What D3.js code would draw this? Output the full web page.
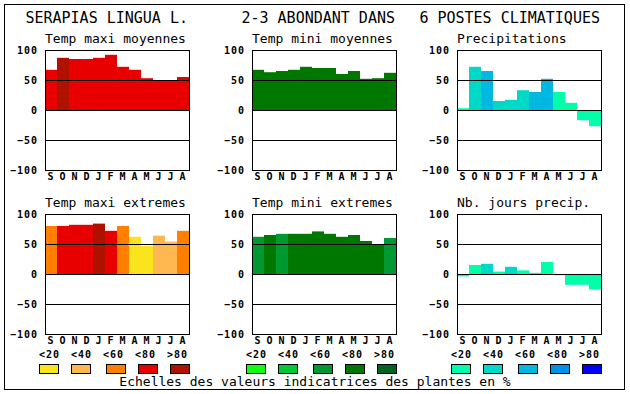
<!DOCTYPE html>
<html>
<head>
<meta charset="utf-8">
<script src="https://cdn.jsdelivr.net/npm/d3@7"></script>
<style>
  body { margin: 0; background: #fff; }
  svg text { font-family: "DejaVu Sans Mono", monospace; fill: #000; }
  .tick text, .leg { font-size: 10px; font-weight: bold; letter-spacing: 1px; }
</style>
</head>
<body>
<svg id="chart" width="630" height="394"></svg>
<script>
// months of the hydrological year
const months = ["S","O","N","D","J","F","M","A","M","J","J","A"]

// values (index -100..100) and abundance class (0..4) for each panel
const tmaxMoy    = [67,87,85,85,87,92,72,67,53,50,50,55]
const tmaxMoyCls = [3,4,3,3,3,3,3,3,3,3,3,3]
const tminMoy    = [67,63,65,67,72,70,70,60,65,52,53,62]
const tminMoyCls = [3,3,3,3,3,3,3,3,3,3,3,3]
const precip     = [3,72,65,15,17,33,30,52,30,12,-17,-27]
const precipCls  = [0,1,2,1,1,1,2,2,0,0,0,0]
const tmaxExt    = [80,80,82,82,84,72,80,62,47,64,54,72]
const tmaxExtCls = [2,3,3,3,4,3,2,0,0,1,1,2]
const tminExt    = [62,65,67,67,67,71,67,62,65,55,50,60]
const tminExtCls = [2,3,2,3,3,3,3,3,3,3,3,2]
const jours      = [-4,15,17,4,12,6,2,20,-2,-18,-18,-26]
const joursCls   = [0,0,1,0,1,0,0,0,0,0,0,0]

const legendLabels = ["<20","<40","<60","<80",">80"]
const yTicks = [-100,-50,0,50,100]
const gridTicks = [-50,0,50]

const reds   = ["#fae41e","#ffb850","#ff8000","#e80000","#b01000"]
const greens = ["#10ff10","#00c838","#009830","#007800","#006420"]
const blues  = ["#00ffa8","#00d8c8","#00b8e0","#0090e8","#0000ff"]

const titles = ["SERAPIAS LINGUA L.","2-3 ABONDANT DANS","6 POSTES CLIMATIQUES"]
const footer = "Echelles des valeurs indicatrices des plantes en %"

const svg = d3.select("#chart")

// outer frame
svg.append("rect").attr("x",4.5).attr("y",4.5).attr("width",620).attr("height",385)
    .attr("fill","#fff").attr("stroke","#000")

const colLeft = [45,252,457]
const rowTop = [50,214]
const plotW = 144, plotH = 120

const panels = [
    {col:0,row:0,name:"Temp maxi moyennes",vals:tmaxMoy,cls:tmaxMoyCls,pal:reds},
    {col:1,row:0,name:"Temp mini moyennes",vals:tminMoy,cls:tminMoyCls,pal:greens},
    {col:2,row:0,name:"Precipitations",vals:precip,cls:precipCls,pal:blues},
    {col:0,row:1,name:"Temp maxi extremes",vals:tmaxExt,cls:tmaxExtCls,pal:reds},
    {col:1,row:1,name:"Temp mini extremes",vals:tminExt,cls:tminExtCls,pal:greens},
    {col:2,row:1,name:"Nb. jours precip.",vals:jours,cls:joursCls,pal:blues}
]

panels.forEach(function(p){
    let left = colLeft[p.col], top = rowTop[p.row]
    let x = d3.scaleBand().domain(d3.range(months.length)).range([left,left+plotW])
    let y = d3.scaleLinear().domain([-100,100]).range([top+plotH,top])
    let g = svg.append("g")

    g.append("rect").attr("x",left).attr("y",top).attr("width",plotW).attr("height",plotH)
        .attr("fill","#fff")

    g.selectAll(".bar").data(p.vals).enter().append("rect")
        .attr("x",(d,i)=>x(i))
        .attr("width",x.bandwidth())
        .attr("y",d=>y(Math.max(0,d)))
        .attr("height",d=>Math.abs(y(d)-y(0)))
        .attr("fill",(d,i)=>p.pal[p.cls[i]])

    // grid lines on top of bars
    g.selectAll(".grid").data(gridTicks).enter().append("line")
        .attr("x1",left).attr("x2",left+plotW)
        .attr("y1",d=>Math.round(y(d))+0.5).attr("y2",d=>Math.round(y(d))+0.5)
        .attr("stroke","#000")

    g.append("rect").attr("x",left+0.5).attr("y",top+0.5).attr("width",plotW).attr("height",plotH)
        .attr("fill","none").attr("stroke","#000")

    // Y axis
    let yAxis = g.append("g").attr("transform",`translate(${left},0)`)
        .call(d3.axisLeft(y).tickValues(yTicks).tickSize(0).tickPadding(7))
    yAxis.select(".domain").remove()

    // month axis
    let xAxis = g.append("g").attr("transform",`translate(0,${top+plotH})`)
        .call(d3.axisBottom(x).tickFormat(i=>months[i]).tickSize(0).tickPadding(3))
    xAxis.select(".domain").remove()

    // panel title
    g.append("text").attr("x",left).attr("y",top-7)
        .style("font-size","13px").text(p.name)
})

// main titles
titles.forEach(function(t,i){
    svg.append("text").attr("x",colLeft[i]+plotW-1).attr("y",23)
        .attr("text-anchor","end").style("font-size","15px").text(t)
})

// legends
const legPals = [reds,greens,blues]
legPals.forEach(function(pal,c){
    let xl = d3.scaleLinear().domain([0,4]).range([colLeft[c]-6,colLeft[c]+122])
    svg.selectAll(null).data(legendLabels).enter().append("text")
        .attr("class","leg")
        .attr("x",(d,i)=>xl(i)).attr("y",358)
        .text(d=>d)
    svg.selectAll(null).data(pal).enter().append("rect")
        .attr("x",(d,i)=>xl(i)+(i>=2?3:0)+0.5).attr("y",364.5)
        .attr("width",19).attr("height",9)
        .attr("fill",d=>d).attr("stroke","#000")
})

svg.append("text").attr("x",315).attr("y",386)
    .attr("text-anchor","middle").style("font-size","13px").text(footer)
</script>
</body>
</html>
